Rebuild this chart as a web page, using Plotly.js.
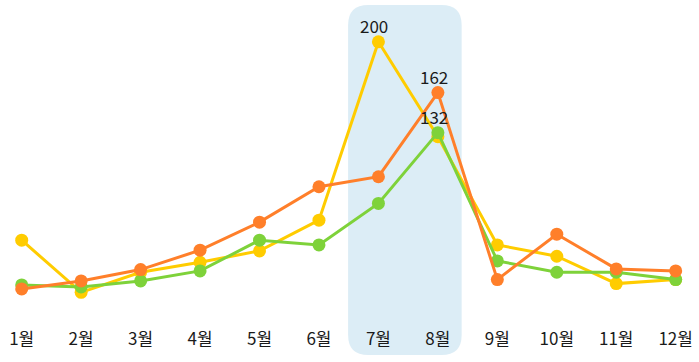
<!DOCTYPE html>
<html>
<head>
<meta charset="utf-8">
<script src="https://cdn.plot.ly/plotly-3.0.1.min.js"></script>
<style>html,body{margin:0;padding:0;background:#fff;}#chart{width:699px;height:362px;}</style>
</head>
<body>
<div id="chart"></div>
<script>
const months = ['1월','2월','3월','4월','5월','6월','7월','8월','9월','10월','11월','12월'];
const yellowValues = [51.5, 12.5, 27.5, 35, 43.5, 66.5, 200, 129, 48, 39.5, 19, 22];
const greenValues  = [18, 16.5, 21, 28.5, 51.5, 48, 79, 132, 36, 27.5, 27.5, 22];
const orangeValues = [15, 21, 29.5, 44, 65, 91.5, 99, 162, 22, 56, 30, 28.5];
const highlightMonths = ['7월', '8월'];

const FONT = '"Noto Sans CJK KR", "Noto Sans", sans-serif';
const xIdx = months.map((_, i) => i);

function series(vals, color) {
  return {
    type: 'scatter', mode: 'lines+markers', x: xIdx, y: vals,
    line: {color: color, width: 3},
    marker: {color: color, size: 13},
    cliponaxis: false, hoverinfo: 'skip'
  };
}

const seriesList = [
  {vals: yellowValues, color: '#FFCC00'},
  {vals: greenValues, color: '#7ED23A'},
  {vals: orangeValues, color: '#FF7F2A'}
];

const traces = seriesList.map(s => series(s.vals, s.color));

const annotations = seriesList.map(s => {
  const m = Math.max(...s.vals);
  const i = s.vals.indexOf(m);
  return {x: i, y: m, xref: 'x', yref: 'y', text: String(m), showarrow: false,
    yanchor: 'bottom', yshift: 2, xshift: -4,
    font: {family: FONT, size: 17, color: '#1a1a1a'}};
});

// highlight band around the highlighted months (rounded rectangle)
const hx0 = months.indexOf(highlightMonths[0]) - 0.51;
const hx1 = months.indexOf(highlightMonths[1]) + 0.40;
const hy0 = -0.149, hy1 = 0.984, rx = 0.34, ry = 0.065;
const path = `M ${hx0+rx},${hy1} L ${hx1-rx},${hy1} Q ${hx1},${hy1} ${hx1},${hy1-ry} ` +
  `L ${hx1},${hy0+ry} Q ${hx1},${hy0} ${hx1-rx},${hy0} L ${hx0+rx},${hy0} ` +
  `Q ${hx0},${hy0} ${hx0},${hy0+ry} L ${hx0},${hy1-ry} Q ${hx0},${hy1} ${hx0+rx},${hy1} Z`;

const layout = {
  width: 699, height: 362,
  margin: {l: 0, r: 0, t: 0, b: 53},
  paper_bgcolor: '#fff', plot_bgcolor: 'rgba(0,0,0,0)',
  showlegend: false,
  hovermode: false,
  xaxis: {
    range: [-0.365, 11.392], tickvals: xIdx, ticktext: months,
    showgrid: false, zeroline: false, showline: false,
    ticks: 'outside', ticklen: 15, tickcolor: 'rgba(0,0,0,0)',
    tickfont: {family: FONT, size: 17, color: '#1a1a1a'}, fixedrange: true
  },
  yaxis: {
    range: [0, 231.3], visible: false, showgrid: false, zeroline: false, fixedrange: true
  },
  shapes: [{type: 'path', xref: 'x', yref: 'paper', path: path,
    fillcolor: '#DCEDF6', line: {width: 0}, layer: 'below'}],
  annotations: annotations
};

Plotly.newPlot('chart', traces, layout, {displayModeBar: false, staticPlot: true});
</script>
</body>
</html>
